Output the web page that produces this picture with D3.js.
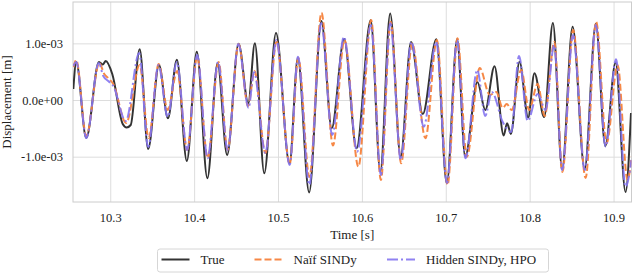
<!DOCTYPE html>
<html>
<head>
<meta charset="utf-8">
<script src="https://cdn.jsdelivr.net/npm/d3@7"></script>
<style>
  body { margin: 0; background: #fff; }
  svg text { font-family: "Liberation Serif", "Times New Roman", Tinos, "DejaVu Serif", serif !important; fill: #222; }
</style>
</head>
<body>
<svg id="chart"></svg>
<script>
// series names, in legend order
const seriesNames = ["True", "Naïf SINDy", "Hidden SINDy, HPO"];

// time [s] and displacement [1e-3 m] (turning points)
const tTrue = [10.2560, 10.2595, 10.2714, 10.2865, 10.2911, 10.2946, 10.3024, 10.3149, 10.3196, 10.3244,
  10.3351, 10.3452, 10.3581, 10.3688, 10.3794, 10.3913, 10.4032, 10.4158, 10.4280, 10.4393,
  10.4530, 10.4645, 10.4724, 10.4836, 10.4976, 10.5137, 10.5236, 10.5371, 10.5517, 10.5640,
  10.5788, 10.5936, 10.6105, 10.6220, 10.6337, 10.6462, 10.6586, 10.6726, 10.6887, 10.7012,
  10.7135, 10.7232, 10.7377, 10.7471, 10.7581, 10.7690, 10.7731, 10.7776, 10.7879, 10.7982,
  10.8057, 10.8173, 10.8277, 10.8387, 10.8512, 10.8655, 10.8789, 10.8902, 10.9024, 10.9143, 10.9208];
const yTrue = [0.194, 0.670, -0.670, 0.670, 0.626, 0.688, 0.459, -0.423, -0.485, -0.441,
  0.894, -0.864, 0.617, -0.323, 0.711, -1.076, 0.852, -1.381, 0.653, -0.970,
  0.995, -0.058, 1.000, -1.293, 1.182, -1.123, 0.735, -1.631, 1.393, -0.499,
  1.076, -0.852, 1.406, -1.265, 1.529, -1.000, 1.023, -0.247, 1.072, -1.469,
  1.071, -1.000, 0.317, -0.176, 0.594, -0.626, -0.409, -0.600, 0.675, -0.309,
  0.471, -0.300, 1.358, -1.217, 1.293, -1.217, 1.340, -0.811, 0.661, -1.623, -0.229];

const tNaif = [10.2560, 10.2595, 10.2714, 10.2869, 10.2929, 10.2976, 10.3036, 10.3190, 10.3351, 10.3458,
  10.3577, 10.3685, 10.3798, 10.3917, 10.4036, 10.4161, 10.4292, 10.4399, 10.4530, 10.4643,
  10.4720, 10.4849, 10.4982, 10.5139, 10.5242, 10.5375, 10.5518, 10.5655, 10.5792, 10.5958,
  10.6111, 10.6226, 10.6343, 10.6468, 10.6599, 10.6758, 10.6893, 10.7021, 10.7140, 10.7250,
  10.7405, 10.7524, 10.7601, 10.7679, 10.7726, 10.7786, 10.7899, 10.7994, 10.8095, 10.8179,
  10.8294, 10.8390, 10.8518, 10.8667, 10.8792, 10.8917, 10.9048, 10.9167, 10.9214];
const yNaif = [0.582, 0.705, -0.635, 0.653, 0.459, 0.388, 0.282, -0.406, 0.617, -0.670,
  0.635, -0.176, 0.511, -0.882, 0.764, -1.023, 0.670, -0.882, 0.988, -0.106,
  0.511, -0.935, 1.028, -1.129, 0.741, -1.358, 1.540, -0.802, 1.058, -1.176,
  1.411, -1.411, 1.381, -1.116, 1.000, -0.675, 1.058, -1.499, 1.088, -1.005,
  0.564, 0.088, 0.141, -0.141, -0.071, -0.176, 0.529, -0.176, 0.282, -0.282,
  1.028, -1.270, 1.235, -1.376, 1.381, -0.764, 0.617, -1.411, -1.005];

const tHidden = [10.2560, 10.2595, 10.2714, 10.2863, 10.2917, 10.2976, 10.3036, 10.3185, 10.3345, 10.3452,
  10.3575, 10.3685, 10.3794, 10.3917, 10.4036, 10.4161, 10.4286, 10.4399, 10.4527, 10.4649,
  10.4714, 10.4849, 10.4980, 10.5139, 10.5238, 10.5373, 10.5515, 10.5646, 10.5786, 10.5944,
  10.6107, 10.6226, 10.6339, 10.6464, 10.6589, 10.6738, 10.6885, 10.7015, 10.7135, 10.7235,
  10.7375, 10.7470, 10.7548, 10.7679, 10.7780, 10.7873, 10.7976, 10.8095, 10.8190, 10.8292,
  10.8387, 10.8516, 10.8658, 10.8789, 10.8905, 10.9030, 10.9143, 10.9214];
const yHidden = [0.600, 0.670, -0.670, 0.653, 0.423, 0.335, 0.247, -0.370, 0.829, -0.829,
  0.617, -0.300, 0.670, -0.882, 0.794, -1.028, 0.670, -0.882, 0.988, -0.141,
  0.494, -0.935, 1.058, -1.146, 0.764, -1.499, 1.353, -0.617, 1.116, -0.912,
  1.323, -1.323, 1.353, -1.058, 1.028, -0.471, 1.028, -1.464, 1.058, -1.028,
  0.529, -0.282, 0.141, -0.388, -0.564, 0.776, -0.370, 0.106, -0.176, 0.970,
  -1.235, 1.146, -1.235, 1.323, -0.824, 0.718, -1.529, -1.058];

// tick values
const xTicks = [10.3, 10.4, 10.5, 10.6, 10.7, 10.8, 10.9];
const yTicks = [-1e-3, 0, 1e-3];

const width = 632, height = 274;
const margin = { top: 2, right: 0.5, bottom: 72, left: 73 };

const series = [
  { name: seriesNames[0], t: tTrue, v: yTrue, color: "#333333", dash: null, opacity: 1 },
  { name: seriesNames[1], t: tNaif, v: yNaif, color: "#f5823c", dash: "7,3", opacity: 0.95 },
  { name: seriesNames[2], t: tHidden, v: yHidden, color: "#8474f0", dash: "11,3,2,3", opacity: 0.9 },
].map((s) => ({ ...s, points: s.t.map((t, i) => [t, s.v[i] * 1e-3]) }));

const svg = d3.select("#chart").attr("width", width).attr("height", height);

const x = d3.scaleLinear()
  .domain([10.2556, 10.9214])
  .range([margin.left, width - margin.right]);

const y = d3.scaleLinear()
  .domain([-1.80e-3, 1.73e-3])
  .range([height - margin.bottom, margin.top]);

// matplotlib style %.1e -> 1.0e-03
const sci = (v) => {
  const [m, e] = v.toExponential(1).split("e");
  return `${m}e${e[0]}${e.slice(1).padStart(2, "0")}`;
};

// grid
svg.append("g")
  .attr("transform", `translate(0,${height - margin.bottom})`)
  .call(d3.axisBottom(x).tickValues(xTicks).tickSize(-(height - margin.bottom - margin.top)).tickFormat(d3.format(".1f")))
  .call((g) => g.attr("font-family", null))
  .call((g) => g.select(".domain").remove())
  .call((g) => g.selectAll(".tick line").attr("stroke", "#dddddd").attr("stroke-width", 1))
  .call((g) => g.selectAll(".tick text").attr("y", 11).attr("dy", "0.71em").attr("font-size", 12.5));

svg.append("g")
  .attr("transform", `translate(${margin.left},0)`)
  .call(d3.axisLeft(y).tickValues(yTicks).tickSize(-(width - margin.left - margin.right)).tickFormat(sci))
  .call((g) => g.attr("font-family", null))
  .call((g) => g.select(".domain").remove())
  .call((g) => g.selectAll(".tick line").attr("stroke", "#dddddd").attr("stroke-width", 1))
  .call((g) => g.selectAll(".tick text").attr("x", -10).attr("font-size", 12.5));

// frame
svg.append("rect")
  .attr("x", margin.left)
  .attr("y", margin.top)
  .attr("width", width - margin.left - margin.right)
  .attr("height", height - margin.top - margin.bottom)
  .attr("fill", "none")
  .attr("stroke", "#cccccc")
  .attr("stroke-width", 1);

svg.append("clipPath").attr("id", "plot-clip")
  .append("rect")
  .attr("x", margin.left)
  .attr("y", margin.top)
  .attr("width", width - margin.left - margin.right)
  .attr("height", height - margin.top - margin.bottom);

const line = d3.line()
  .x((d) => x(d[0]))
  .y((d) => y(d[1]))
  .curve(d3.curveMonotoneX);

svg.append("g")
  .attr("clip-path", "url(#plot-clip)")
  .selectAll("path")
  .data(series)
  .join("path")
  .attr("d", (s) => line(s.points))
  .attr("fill", "none")
  .attr("stroke", (s) => s.color)
  .attr("stroke-width", 2)
  .attr("stroke-opacity", (s) => s.opacity)
  .attr("stroke-dasharray", (s) => s.dash)
  .attr("stroke-linejoin", "round");

// axis titles
svg.append("text")
  .attr("x", (margin.left + width - margin.right) / 2)
  .attr("y", 238.5)
  .attr("text-anchor", "middle")
  .attr("font-size", 13)
  .text("Time [s]");

svg.append("text")
  .attr("transform", `translate(11,${(margin.top + height - margin.bottom) / 2}) rotate(-90)`)
  .attr("text-anchor", "middle")
  .attr("font-size", 13)
  .text("Displacement [m]");

// legend
const legendX = [161.5, 254.5, 387];
const legend = svg.append("g");
legend.append("rect")
  .attr("x", 157.5)
  .attr("y", 249)
  .attr("width", 391)
  .attr("height", 23)
  .attr("rx", 2.5)
  .attr("fill", "#fff")
  .attr("stroke", "#d6d6d6");

const item = legend.selectAll("g.item")
  .data(series)
  .join("g")
  .attr("class", "item")
  .attr("transform", (s, i) => `translate(${legendX[i]},259.5)`);

item.append("line")
  .attr("x1", 0).attr("x2", 28)
  .attr("stroke", (s) => s.color)
  .attr("stroke-width", 2)
  .attr("stroke-opacity", (s) => s.opacity)
  .attr("stroke-dasharray", (s) => s.dash);

item.append("text")
  .attr("x", 39)
  .attr("y", 4.8)
  .attr("font-size", 13)
  .text((s) => s.name);
</script>
</body>
</html>
